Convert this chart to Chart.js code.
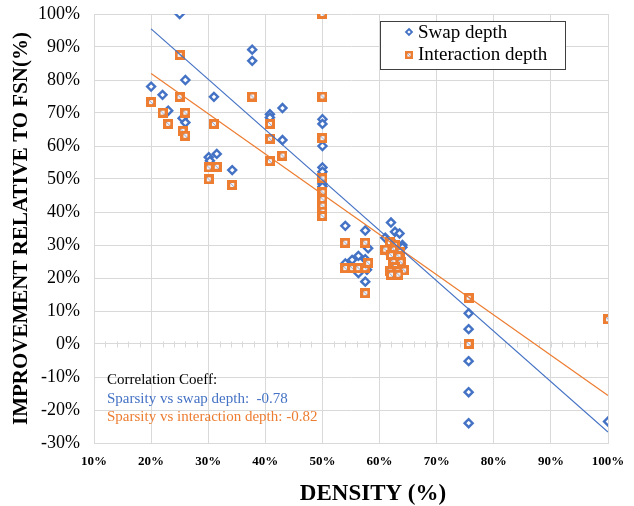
<!DOCTYPE html>
<html>
<head>
<meta charset="utf-8">
<script src="https://cdn.jsdelivr.net/npm/chart.js@4.4.0/dist/chart.umd.min.js"></script>
<style>
    html, body { margin: 0; padding: 0; background: #fff; }
</style>
</head>
<body>
<canvas id="densityChart" width="634" height="506"></canvas>
<script>
// swap depth (blue diamonds)
const swapDensity = [20, 22, 23, 25, 25.5, 26, 26, 30.1, 30.3, 31.5, 31, 34.2, 37.7, 37.7, 40.8, 40.8, 43, 43,
    50, 50, 50, 50, 50, 50, 50, 54, 57.5, 58, 54, 55.2, 56.3, 57.5, 56.3, 57.8, 57.5,
    62, 62.7, 63.5, 61, 64, 64, 62.5, 63, 62, 75.6, 75.6, 75.6, 75.6, 75.6, 100];
const swapDepth = [78, 75.5, 70.7, 100, 68.4, 67.1, 80, 56.6, 55.5, 57.6, 74.9, 52.7, 89.2, 85.8, 69.6, 68.6, 71.5, 61.8,
    68.1, 66.7, 60, 53.5, 52.2, 48.5, 47.7, 35.8, 34.4, 29, 24.4, 25.5, 26.7, 25.7, 21.5, 22.5, 18.9,
    36.8, 34, 33.5, 32.2, 30, 29.3, 30.5, 28, 27, 9.3, 4.5, -5.2, -14.6, -24, -23.5];

// interaction depth (orange squares)
const interDensity = [20, 22, 23, 25, 25, 26, 25.5, 26, 30.1, 31.5, 31, 30.1, 34.2, 37.7, 40.8, 40.8, 40.8, 43,
    50, 50, 50, 50, 50, 50, 50, 50, 50, 54, 57.5, 54, 55.2, 56.3, 57.5, 58, 57.5,
    61, 61.8, 62.7, 62.5, 63.6, 62, 63.3, 62.4, 63.7, 62.7, 64.3, 61.8, 63.1, 62, 63.3, 75.6, 75.6, 100];
const interDepth = [73.3, 70.1, 66.7, 87.6, 74.9, 70.1, 64.6, 63.1, 53.5, 53.7, 66.7, 49.9, 48.2, 75, 66.7, 62.2, 55.4, 57.1,
    100, 75, 62.4, 50.2, 46, 43.9, 41.9, 40.1, 38.8, 30.7, 30.7, 23, 23, 23, 23, 24.6, 15.4,
    28.6, 30.9, 29.9, 28.6, 27.9, 26.9, 26.6, 24.8, 24.8, 23.3, 22.3, 22, 22, 21, 21, 14, 0, 7.5];

// linear trend lines, end points
const trendDensity = [20, 100];
const swapTrend = [95.5, -26.7];
const interTrend = [82, -15.6];

const BLUE = '#4472C4';
const ORANGE = '#ED7D31';
const GRID = '#d9d9d9';
const SERIF = '"Liberation Serif", "Times New Roman", serif';

function toPoints(xs, ys) {
    return xs.map((x, i) => ({ x, y: ys[i] }));
}

function squareMarker() {
    const c = document.createElement('canvas');
    c.width = 10;
    c.height = 10;
    const g = c.getContext('2d');
    g.fillStyle = ORANGE;
    g.fillRect(0, 0, 10, 10);
    g.fillStyle = '#f4f6fb';
    g.fillRect(3, 3, 4, 4);
    g.strokeStyle = '#8ea2c8';
    g.lineWidth = 1;
    g.beginPath();
    g.moveTo(3, 3);
    g.lineTo(7, 7);
    g.stroke();
    return c;
}

const orangeSquare = squareMarker();

const zeroLineTicks = {
    id: 'zeroLineTicks',
    beforeDatasetsDraw(chart) {
        const { ctx, scales: { x, y } } = chart;
        const y0 = Math.round(y.getPixelForValue(0)) + 0.5;
        ctx.save();
        ctx.strokeStyle = GRID;
        ctx.lineWidth = 1;
        ctx.beginPath();
        for (let v = 10; v <= 100; v += 2) {
            const px = Math.round(x.getPixelForValue(v)) + 0.5;
            ctx.moveTo(px, y0 - 3);
            ctx.lineTo(px, y0 + 3);
        }
        ctx.stroke();
        ctx.restore();
    }
};

const extras = {
    id: 'extras',
    afterDraw(chart) {
        const ctx = chart.ctx;
        ctx.save();

        // legend box
        ctx.fillStyle = '#fff';
        ctx.fillRect(380, 21, 185, 48);
        ctx.strokeStyle = '#404040';
        ctx.lineWidth = 1;
        ctx.strokeRect(380.5, 21.5, 185, 48);

        // blue diamond
        ctx.beginPath();
        ctx.moveTo(409, 29);
        ctx.lineTo(412, 32);
        ctx.lineTo(409, 35);
        ctx.lineTo(406, 32);
        ctx.closePath();
        ctx.fillStyle = '#fff';
        ctx.fill();
        ctx.strokeStyle = BLUE;
        ctx.lineWidth = 1.8;
        ctx.stroke();
        ctx.drawImage(orangeSquare, 0, 0, 10, 10, 405, 51, 8, 8);

        ctx.fillStyle = '#000';
        ctx.font = '19px ' + SERIF;
        ctx.textBaseline = 'middle';
        ctx.textAlign = 'left';
        ctx.fillText('Swap depth', 418, 33);
        ctx.fillText('Interaction depth', 418, 55);

        // correlation note
        ctx.font = '15px ' + SERIF;
        ctx.fillStyle = '#000';
        ctx.fillText('Correlation Coeff:', 107, 380);
        ctx.fillStyle = BLUE;
        ctx.fillText('Sparsity vs swap depth:  -0.78', 107, 399);
        ctx.fillStyle = ORANGE;
        ctx.fillText('Sparsity vs interaction depth: -0.82', 107, 417);

        // x axis title
        ctx.fillStyle = '#000';
        ctx.font = 'bold 23px ' + SERIF;
        ctx.textAlign = 'center';
        ctx.fillText('DENSITY (%)', 373, 494);
        ctx.restore();
    }
};

new Chart(document.getElementById('densityChart'), {
    type: 'scatter',
    data: {
        datasets: [
            {
                label: 'Swap trend',
                data: toPoints(trendDensity, swapTrend),
                showLine: true,
                borderColor: BLUE,
                borderWidth: 1.2,
                pointRadius: 0,
                order: 0
            },
            {
                label: 'Interaction trend',
                data: toPoints(trendDensity, interTrend),
                showLine: true,
                borderColor: ORANGE,
                borderWidth: 1.2,
                pointRadius: 0,
                order: 0
            },
            {
                label: 'Interaction depth',
                data: toPoints(interDensity, interDepth),
                pointStyle: orangeSquare,
                pointRadius: 5,
                order: 1
            },
            {
                label: 'Swap depth',
                data: toPoints(swapDensity, swapDepth),
                pointStyle: 'rectRot',
                pointRadius: 4,
                borderWidth: 2.4,
                borderColor: BLUE,
                backgroundColor: '#fff',
                order: 2
            }
        ]
    },
    options: {
        responsive: false,
        animation: false,
        devicePixelRatio: 1,
        layout: {
            padding: { left: 0, right: 26, top: 14, bottom: 0 }
        },
        plugins: {
            legend: { display: false },
            tooltip: { enabled: false }
        },
        scales: {
            x: {
                type: 'linear',
                min: 10,
                max: 100,
                ticks: {
                    stepSize: 10,
                    padding: 11,
                    color: '#000',
                    font: { family: SERIF, size: 13, weight: 'bold' },
                    callback: v => v + '%'
                },
                grid: { color: GRID, drawTicks: false },
                border: { color: GRID },
                afterFit: scale => {
                    scale.height = 63;
                    scale.paddingLeft = 0;
                    scale.paddingRight = 0;
                }
            },
            y: {
                type: 'linear',
                min: -30,
                max: 100,
                ticks: {
                    stepSize: 10,
                    padding: 14,
                    color: '#000',
                    font: { family: SERIF, size: 18 },
                    callback: v => v + '%'
                },
                grid: { color: GRID, drawTicks: false },
                border: { color: GRID },
                title: {
                    display: true,
                    text: 'IMPROVEMENT RELATIVE TO FSN(%)',
                    color: '#000',
                    font: { family: SERIF, size: 21, weight: 'bold', lineHeight: 1.2 },
                    padding: { top: 9, bottom: 0 }
                },
                afterFit: scale => {
                    scale.width = 94;
                    scale.paddingTop = 0;
                    scale.paddingBottom = 0;
                }
            }
        }
    },
    plugins: [zeroLineTicks, extras]
});
</script>
</body>
</html>
